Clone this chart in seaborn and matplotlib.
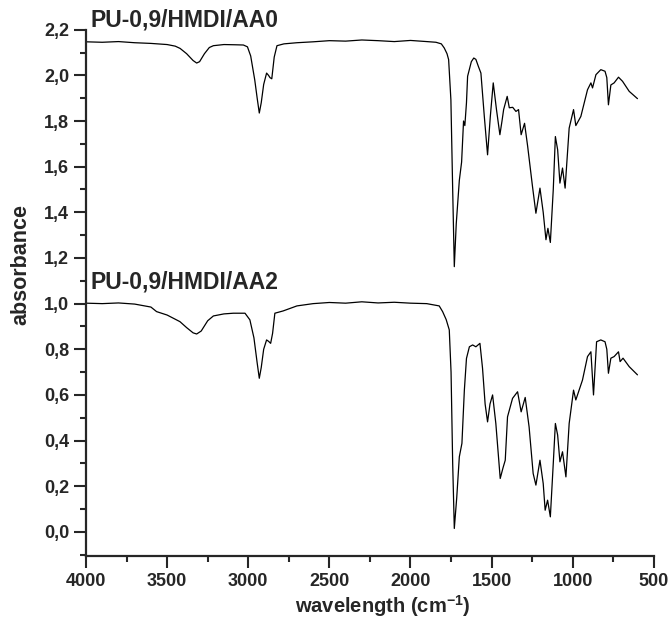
import numpy as np
import pandas as pd
import seaborn as sns
import matplotlib.pyplot as plt
from matplotlib.ticker import FuncFormatter, MultipleLocator

# Spectra (wavenumber in cm-1, absorbance)
wn_aa0 = [4000, 3900, 3800, 3700, 3600, 3500, 3450, 3420, 3380, 3340, 3318, 3300, 3270, 3240, 3215,
          3150, 3080, 3030, 3005, 2985, 2960, 2945, 2932, 2920, 2905, 2887, 2875, 2866, 2855, 2840,
          2823, 2780, 2700, 2600, 2500, 2400, 2300, 2200, 2100, 2000, 1900, 1843, 1810, 1792, 1775,
          1765, 1751, 1740, 1730, 1718, 1699, 1685, 1673, 1665, 1655, 1648, 1625, 1610, 1597, 1582,
          1566, 1545, 1525, 1508, 1490, 1470, 1449, 1436, 1426, 1404, 1391, 1370, 1350, 1334, 1318,
          1297, 1278, 1248, 1227, 1202, 1182, 1165, 1153, 1138, 1120, 1107, 1093, 1079, 1063, 1047,
          1022, 995, 981, 950, 909, 888, 878, 857, 827, 801, 790, 780, 765, 745, 718, 693, 652, 601]
abs_aa0 = [2.147, 2.145, 2.148, 2.143, 2.140, 2.135, 2.128, 2.118, 2.095, 2.065, 2.054, 2.060, 2.095, 2.122, 2.130,
           2.135, 2.134, 2.133, 2.125, 2.085, 1.980, 1.900, 1.835, 1.880, 1.960, 2.010, 2.000, 1.990, 1.985, 2.080,
           2.130, 2.138, 2.143, 2.147, 2.152, 2.150, 2.155, 2.152, 2.148, 2.153, 2.148, 2.145, 2.138, 2.120, 2.095,
           2.069, 1.893, 1.500, 1.162, 1.350, 1.540, 1.620, 1.800, 1.780, 1.880, 1.996, 2.060, 2.076, 2.070, 2.040,
           2.010, 1.820, 1.652, 1.820, 1.967, 1.850, 1.740, 1.800, 1.850, 1.908, 1.858, 1.860, 1.842, 1.850, 1.740,
           1.790, 1.690, 1.513, 1.396, 1.506, 1.400, 1.280, 1.330, 1.268, 1.500, 1.732, 1.674, 1.528, 1.594, 1.506,
           1.769, 1.850, 1.780, 1.820, 1.937, 1.967, 1.945, 2.003, 2.025, 2.018, 1.990, 1.871, 1.958, 1.967, 1.992, 1.974, 1.930, 1.898]

wn_aa2 = [4000, 3900, 3800, 3700, 3600, 3565, 3500, 3421, 3380, 3340, 3318, 3290, 3250, 3215, 3150,
          3092, 3020, 2990, 2965, 2945, 2932, 2920, 2905, 2887, 2875, 2862, 2850, 2836, 2785, 2700,
          2600, 2500, 2400, 2300, 2200, 2100, 2000, 1900, 1823, 1802, 1780, 1761, 1750, 1740, 1730,
          1715, 1699, 1683, 1668, 1655, 1637, 1617, 1597, 1572, 1556, 1540, 1525, 1510, 1494, 1474,
          1447, 1430, 1416, 1402, 1371, 1340, 1318, 1293, 1269, 1244, 1227, 1202, 1182, 1170, 1155,
          1138, 1120, 1107, 1093, 1079, 1063, 1042, 1022, 995, 981, 940, 909, 888, 872, 853, 827,
          801, 790, 780, 765, 745, 718, 708, 690, 652, 601]
abs_aa2 = [1.002, 1.000, 1.003, 0.998, 0.985, 0.965, 0.950, 0.921, 0.895, 0.872, 0.867, 0.880, 0.925, 0.946, 0.955,
           0.958, 0.958, 0.929, 0.850, 0.740, 0.673, 0.720, 0.800, 0.841, 0.835, 0.826, 0.870, 0.958, 0.968, 0.990,
           1.000, 1.005, 1.002, 1.008, 1.003, 1.006, 1.002, 1.000, 0.990, 0.965, 0.930, 0.885, 0.700, 0.300, 0.015,
           0.150, 0.329, 0.388, 0.621, 0.760, 0.811, 0.819, 0.811, 0.826, 0.717, 0.560, 0.482, 0.560, 0.600, 0.475,
           0.234, 0.280, 0.314, 0.504, 0.585, 0.614, 0.526, 0.589, 0.460, 0.256, 0.205, 0.314, 0.212, 0.095, 0.139,
           0.066, 0.300, 0.475, 0.424, 0.307, 0.351, 0.241, 0.475, 0.621, 0.578, 0.665, 0.768, 0.789, 0.600, 0.833, 0.841,
           0.833, 0.800, 0.695, 0.761, 0.768, 0.789, 0.746, 0.761, 0.724, 0.688]

labels = ['PU-0,9/HMDI/AA0', 'PU-0,9/HMDI/AA2']

df = pd.concat([
    pd.DataFrame({'wn': wn_aa0, 'absorbance': abs_aa0, 'sample': labels[0]}),
    pd.DataFrame({'wn': wn_aa2, 'absorbance': abs_aa2, 'sample': labels[1]}),
])

sns.set_style('ticks')
plt.rcParams['font.family'] = ['Liberation Sans', 'DejaVu Sans']
plt.rcParams['font.weight'] = 'bold'
plt.rcParams['mathtext.fontset'] = 'custom'
plt.rcParams['mathtext.bf'] = 'Liberation Sans:bold'
plt.rcParams['mathtext.rm'] = 'Liberation Sans:bold'
plt.rcParams['mathtext.default'] = 'bf'

fig = plt.figure(figsize=(6.72, 6.19), dpi=100)
ax = fig.add_axes([0.128, 0.102, 0.845, 0.850])

sns.lineplot(data=df, x='wn', y='absorbance', units='sample', estimator=None,
             sort=False, color='black', linewidth=0.9, ax=ax)

ax.set_xlim(4000, 500)
ax.set_ylim(-0.105, 2.2)
ax.xaxis.set_major_locator(MultipleLocator(500))
ax.xaxis.set_minor_locator(MultipleLocator(250))
ax.yaxis.set_major_locator(MultipleLocator(0.2))
ax.yaxis.set_minor_locator(MultipleLocator(0.1))
ax.yaxis.set_major_formatter(FuncFormatter(lambda v, p: f'{v:.1f}'.replace('.', ',').replace('-0,0', '0,0')))
ax.xaxis.set_major_formatter(FuncFormatter(lambda v, p: f'{v:.0f}'))

sns.despine(ax=ax)
for s in ['left', 'bottom']:
    ax.spines[s].set_linewidth(1.6)
ax.tick_params(which='major', length=8.5, width=1.5, labelsize=13, direction='out', pad=3.5)
ax.tick_params(which='minor', length=4, width=1.5, direction='out')
for lab in ax.get_xticklabels() + ax.get_yticklabels():
    lab.set_fontweight('bold')

ax.set_xlabel('wavelength (cm$^{-1}$)', fontsize=14.5, fontweight='bold')
ax.set_ylabel('absorbance', fontsize=15.5, fontweight='bold')
ax.xaxis.set_label_coords(0.523, -0.071)
ax.yaxis.set_label_coords(-0.097, 0.553)

ax.text(3972, 2.19, labels[0], fontsize=16.5, fontweight='bold', va='bottom', ha='left')
ax.text(3972, 1.045, labels[1], fontsize=16.5, fontweight='bold', va='bottom', ha='left')

fig.savefig('out.png', dpi=100)
